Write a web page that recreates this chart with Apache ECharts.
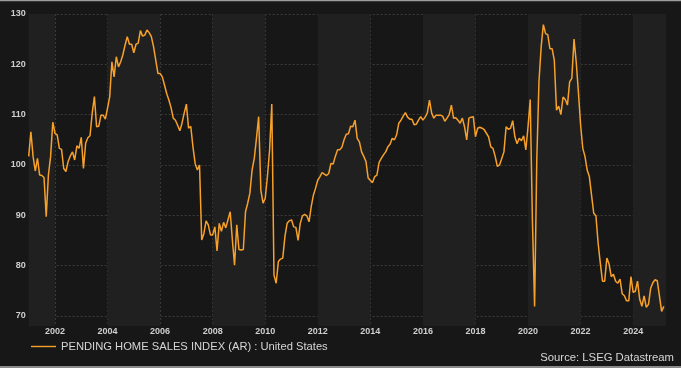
<!DOCTYPE html>
<html><head><meta charset="utf-8">
<script src="https://cdn.jsdelivr.net/npm/echarts@6/dist/echarts.min.js"></script>
<style>html,body{margin:0;padding:0;background:#171717}#c{width:681px;height:368px}</style>
</head><body><div id="c"></div>
<script>
const startYear = 2001;
const v2001 = [101.7, 106.6, 101.7, 98.8, 101.3, 98.0, 97.9, 97.5, 89.7, 98.0, 101.7, 108.5];
const v2002 = [106.3, 106.0, 103.3, 103.1, 99.3, 98.7, 100.7, 101.8, 102.6, 101.0, 103.8, 103.3];
const v2003 = [105.5, 99.3, 104.3, 105.4, 105.8, 110.3, 113.6, 107.6, 107.7, 109.9, 109.9, 109.1];
const v2004 = [111.3, 113.6, 120.5, 117.5, 121.5, 119.5, 120.5, 121.9, 123.8, 125.5, 124.0, 124.0];
const v2005 = [122.3, 124.0, 124.2, 126.7, 125.6, 125.8, 126.8, 126.3, 125.5, 123.5, 120.9, 118.2];
const v2006 = [118.2, 117.5, 115.9, 114.2, 112.9, 111.4, 109.3, 108.9, 107.9, 106.8, 108.3, 110.3];
const v2007 = [112.1, 107.3, 107.7, 103.6, 100.3, 99.0, 100.0, 85.1, 86.4, 88.9, 88.1, 86.1];
const v2008 = [86.1, 87.7, 82.9, 88.4, 86.8, 88.6, 87.5, 89.1, 90.7, 85.1, 80.1, 88.1];
const v2009 = [83.2, 83.1, 83.2, 90.7, 92.4, 94.4, 99.0, 101.3, 105.3, 109.6, 95.0, 92.4];
const v2010 = [93.4, 97.7, 103.0, 112.1, 78.1, 76.5, 80.8, 81.3, 81.5, 85.8, 88.4, 88.9];
const v2011 = [89.1, 87.7, 87.6, 85.0, 88.4, 89.9, 90.2, 89.9, 88.7, 91.7, 94.0, 95.4];
const v2012 = [97.0, 97.7, 98.5, 98.2, 97.9, 98.3, 100.3, 100.2, 101.7, 103.0, 103.0, 103.5];
const v2013 = [105.0, 106.1, 106.2, 107.7, 107.6, 108.9, 105.3, 104.6, 102.6, 101.7, 100.7, 97.4];
const v2014 = [96.9, 96.5, 97.7, 98.0, 100.5, 101.3, 102.0, 102.6, 103.6, 104.1, 105.3, 105.0];
const v2015 = [106.0, 108.3, 108.9, 109.7, 110.4, 109.5, 109.1, 109.1, 108.0, 108.1, 108.9, 109.6];
const v2016 = [108.9, 109.5, 110.3, 112.9, 110.3, 109.3, 109.9, 109.9, 109.9, 109.7, 108.7, 109.3];
const v2017 = [110.0, 111.9, 109.3, 109.4, 108.9, 108.3, 109.3, 107.6, 105.0, 109.3, 109.5, 109.6];
const v2018 = [105.6, 107.3, 107.5, 107.3, 107.0, 106.3, 105.6, 103.6, 103.3, 101.7, 99.7, 100.0];
const v2019 = [101.3, 102.6, 107.6, 107.1, 107.3, 108.8, 105.6, 104.2, 105.3, 104.8, 105.8, 103.0];
const v2020 = [107.6, 113.0, 89.0, 71.9, 101.0, 116.6, 123.5, 127.9, 126.1, 125.9, 123.1, 123.1];
const v2021 = [120.8, 110.9, 111.7, 110.0, 113.5, 113.0, 111.9, 116.5, 117.2, 125.0, 120.5, 114.5];
const v2022 = [108.0, 103.3, 101.7, 99.0, 97.7, 94.0, 90.4, 89.9, 84.5, 80.5, 76.9, 76.9];
const v2023 = [81.5, 80.3, 77.8, 78.3, 76.9, 76.5, 77.3, 74.4, 74.0, 73.0, 73.0, 77.8];
const v2024 = [74.7, 74.9, 76.9, 73.3, 71.9, 74.0, 71.7, 72.3, 75.5, 76.6, 77.2, 77.0];
const v2025 = [74.0, 70.9, 71.9];

const xTicks = [2002, 2004, 2006, 2008, 2010, 2012, 2014, 2016, 2018, 2020, 2022, 2024];
const yTicks = [70, 80, 90, 100, 110, 120, 130];
const lightBands = [[2001, 2002], [2004, 2006], [2008, 2010], [2012, 2014], [2016, 2018], [2020, 2022], [2024, 2025.25]];
const seriesName = 'PENDING HOME SALES INDEX (AR) : United States';
const sourceText = 'Source: LSEG Datastream';

const values = [].concat(v2001, v2002, v2003, v2004, v2005, v2006, v2007, v2008, v2009, v2010,
  v2011, v2012, v2013, v2014, v2015, v2016, v2017, v2018, v2019, v2020, v2021, v2022, v2023, v2024, v2025);
const data = values.map((v, i) => [startYear + i / 12, v]);

const chart = echarts.init(document.getElementById('c'), null, {renderer: 'canvas'});
const gridLine = {show: true, lineStyle: {color: '#3a3a3a', type: [2, 2], width: 1}};
const font = 'Liberation Sans, Arial, sans-serif';
chart.setOption({
  backgroundColor: '#171717',
  animation: false,
  grid: {left: 28.7, right: 15, top: 14, bottom: 42},
  xAxis: {
    type: 'value', min: 2001, max: 2025.25,
    axisLine: {show: false},
    axisTick: {show: false, customValues: xTicks},
    axisLabel: {customValues: xTicks, formatter: v => String(Math.round(v)), color: '#cfcfcf',
      fontSize: 9, fontWeight: 'bold', fontFamily: font, margin: 1},
    splitLine: gridLine
  },
  yAxis: {
    type: 'value', min: 68, max: 130,
    axisLine: {show: false},
    axisTick: {show: false, customValues: yTicks},
    axisLabel: {customValues: yTicks, color: '#cfcfcf', fontSize: 9, fontWeight: 'bold',
      fontFamily: font, margin: 3},
    splitLine: gridLine
  },
  legend: {
    left: 26, top: 336, itemWidth: 25, itemHeight: 1.4, itemGap: 10, icon: 'rect',
    textStyle: {color: '#d6d6d6', fontSize: 11.2, fontFamily: font},
    data: [{name: seriesName, icon: 'rect', itemStyle: {color: '#f7a12b'}}]
  },
  graphic: [
    {type: 'rect', left: 0, top: 0, shape: {width: 681, height: 1.3}, style: {fill: '#9c9c9c'}, silent: true},
    {type: 'rect', left: 0, top: 366, shape: {width: 681, height: 2}, style: {fill: '#8a8a8a'}, silent: true},
    {type: 'text', right: 7, top: 352,
      style: {text: sourceText, fill: '#d6d6d6', fontSize: 11.3, fontFamily: font}}
  ],
  series: [
    {
      type: 'line', z: -1, silent: true, data: [],
      markArea: {silent: true, itemStyle: {color: '#202020'},
        data: lightBands.map(b => [{xAxis: b[0]}, {xAxis: b[1]}])}
    },
    {
      name: seriesName, type: 'line', data: data, showSymbol: false, symbol: 'none',
      lineStyle: {color: '#f7a12b', width: 1.5}, itemStyle: {color: '#f7a12b'}
    }
  ]
});
</script></body></html>
